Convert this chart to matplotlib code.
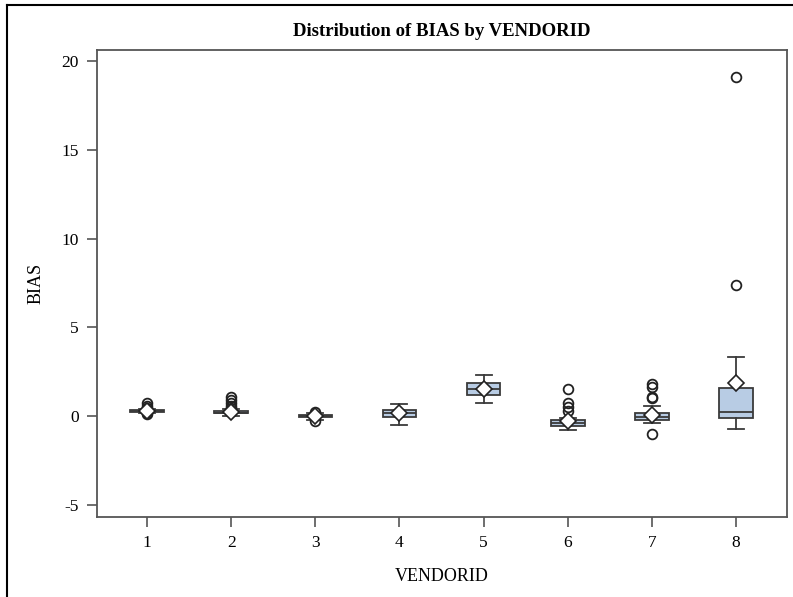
import matplotlib
matplotlib.use("Agg")
import matplotlib.pyplot as plt
from matplotlib.lines import Line2D

# Box statistics per vendor
vendors = [1, 2, 3, 4, 5, 6, 7, 8]
q1 = [0.25, 0.15, -0.06, -0.03, 1.21, -0.55, -0.21, -0.08]
median = [0.28, 0.20, 0.00, 0.16, 1.51, -0.37, -0.05, 0.22]
q3 = [0.32, 0.27, 0.04, 0.35, 1.89, -0.21, 0.16, 1.60]
whisker_lo = [0.20, 0.00, -0.20, -0.48, 0.73, -0.78, -0.40, -0.74]
whisker_hi = [0.40, 0.38, 0.15, 0.69, 2.32, -0.08, 0.55, 3.35]
means = [0.30, 0.25, 0.00, 0.15, 1.55, -0.30, 0.08, 1.89]
outliers = [
    [0.72, 0.55, 0.45, 0.15, 0.10],
    [1.05, 0.90, 0.75, 0.55, 0.45],
    [0.25, -0.30],
    [],
    [],
    [1.55, 0.72, 0.50, 0.30],
    [1.80, 1.63, 1.10, 1.00, -1.00],
    [19.1, 7.4],
]

stats = []
for i in range(len(vendors)):
    stats.append(dict(q1=q1[i], med=median[i], q3=q3[i], whislo=whisker_lo[i],
                      whishi=whisker_hi[i], mean=means[i], fliers=outliers[i]))

plt.rcParams['font.family'] = ['Liberation Serif', 'DejaVu Serif']
plt.rcParams['axes.unicode_minus'] = False

fig = plt.figure(figsize=(7.93, 5.97), dpi=100)
ax = fig.add_axes([97 / 793, 1 - 517 / 597, 690 / 793, 467 / 597])

edge = '#3a3a3a'
ax.bxp(stats, positions=vendors, widths=0.4, patch_artist=True, showmeans=True,
       boxprops=dict(facecolor='#b8cce4', edgecolor=edge, linewidth=1.3),
       medianprops=dict(color=edge, linewidth=1.3),
       whiskerprops=dict(color=edge, linewidth=1.3),
       capprops=dict(color=edge, linewidth=1.3),
       capwidths=0.19,
       meanprops=dict(marker='D', markerfacecolor='white', markeredgecolor='#222222',
                      markersize=8.5, markeredgewidth=1.2),
       flierprops=dict(marker='o', markerfacecolor='none', markeredgecolor='#222222',
                       markersize=7, markeredgewidth=1.3))

ax.set_xlim(0.405, 8.606)
ax.set_ylim(-5.68, 20.62)
ax.set_yticks([-5, 0, 5, 10, 15, 20])
ax.set_xticks(vendors)
ax.set_xticklabels([str(v) for v in vendors])

for s in ax.spines.values():
    s.set_color('#555555')
    s.set_linewidth(1.3)
ax.tick_params(direction='out', length=7, width=1.2, color='#555555',
               labelsize=12.5, pad=6)

ax.set_xlabel('VENDORID', fontsize=13, labelpad=12)
ax.set_ylabel('BIAS', fontsize=13, labelpad=12)
fig.text(0.5 * (97 + 787) / 793, 1 - 32 / 597, 'Distribution of BIAS by VENDORID',
         ha='center', va='center', fontsize=13.5, fontweight='bold')

# outer frame on the left and top, as in the source image
fig.add_artist(Line2D([7 / 793, 7 / 793], [0, 1 - 5 / 597], color='black', linewidth=1.5))
fig.add_artist(Line2D([7 / 793, 1], [1 - 5 / 597, 1 - 5 / 597], color='black', linewidth=1.5))

fig.savefig('out.png', dpi=100)
